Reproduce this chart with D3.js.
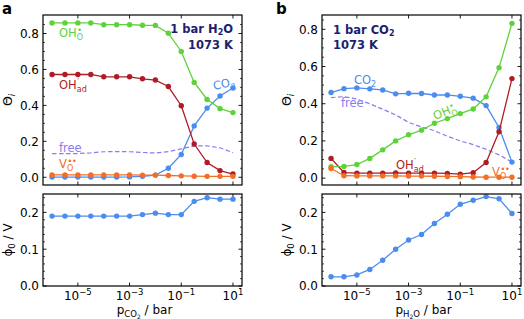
<!DOCTYPE html>
<html><head><meta charset="utf-8">
<script src="https://cdn.jsdelivr.net/npm/d3@7"></script>
<style>
body{margin:0;background:#fff;}
svg{font-family:"DejaVu Sans",sans-serif;}
</style></head>
<body><svg id="c" width="524" height="319"></svg>
<script>
// log10 of pressure (bar)
const logP = [-6,-5.5,-5,-4.5,-4,-3.5,-3,-2.5,-2,-1.5,-1,-0.5,0,0.5,1];
const xTickExp = [-5,-3,-1,1];

// Panel a: varying pCO2 at 1 bar H2O
const aOHO  = [0.859,0.859,0.859,0.859,0.849,0.849,0.849,0.846,0.845,0.802,0.700,0.528,0.433,0.382,0.360];
const aOHad = [0.572,0.572,0.572,0.572,0.559,0.559,0.559,0.548,0.541,0.505,0.398,0.185,0.082,0.037,0.018];
const aCO2  = [0.001,0.001,0.001,0.001,0.001,0.001,0.002,0.005,0.012,0.050,0.127,0.286,0.385,0.452,0.497];
const aVO   = [0.013,0.013,0.013,0.013,0.013,0.013,0.013,0.012,0.012,0.010,0.008,0.006,0.005,0.005,0.005];
const aFree = [0.132,0.132,0.132,0.136,0.142,0.143,0.142,0.138,0.135,0.143,0.158,0.175,0.175,0.164,0.137];
const aPhi  = [0.190,0.190,0.190,0.190,0.190,0.190,0.190,0.194,0.198,0.194,0.194,0.230,0.240,0.236,0.236];

// Panel b: varying pH2O at 1 bar CO2
const bCO2  = [0.460,0.481,0.485,0.480,0.474,0.453,0.456,0.455,0.447,0.447,0.440,0.430,0.390,0.272,0.086];
const bOHO  = [0.061,0.063,0.073,0.106,0.152,0.200,0.233,0.258,0.295,0.320,0.347,0.372,0.437,0.594,0.832];
const bOHad = [0.106,0.030,0.027,0.027,0.027,0.028,0.027,0.027,0.027,0.025,0.021,0.029,0.084,0.249,0.535];
const bVO   = [0.052,0.013,0.012,0.012,0.012,0.012,0.011,0.011,0.010,0.009,0.008,0.006,0.005,0.005,0.005];
const bFree = [0.433,0.438,0.425,0.400,0.370,0.340,0.300,0.275,0.255,0.225,0.200,0.180,0.155,0.125,0.087];
const bPhi  = [0.025,0.025,0.030,0.045,0.070,0.100,0.125,0.140,0.170,0.195,0.222,0.233,0.243,0.237,0.197];

const C = {green:"#5ed23a", red:"#b01c25", blue:"#4a8cf0", orange:"#f26e26", purple:"#8a7cf0", navy:"#1b1f6e"};

const svg = d3.select("#c");

function richText(g, x, y, base, sub, sup, color, size, rot) {
  const grp = g.append("g").attr("transform", `translate(${x},${y}) rotate(${rot||0})`);
  const t = grp.append("text").attr("x",0).attr("y",0).attr("fill",color).attr("font-size",size).text(base);
  const w = t.node().getComputedTextLength();
  if (sub) grp.append("text").attr("x",w).attr("y",size*0.3).attr("fill",color).attr("font-size",size*0.7).text(sub);
  if (sup) grp.append("text").attr("x",w+0.5).attr("y",-size*0.38).attr("fill",color).attr("font-size",size*0.7).text(sup);
  return grp;
}

function panel(cfg) {
  const x = d3.scaleLinear().domain([-6.35, 1.35]).range([cfg.left, cfg.right]);
  const yT = d3.scaleLinear().domain(cfg.yDomTop).range([185, 15]);
  const yB = d3.scaleLinear().domain([0, 0.25]).range([286, 194]);

  function frame(y, top, bot, majors, minors, labelsX) {
    const g = svg.append("g");
    xTickExp.forEach(e => {
      g.append("line").attr("x1",x(e)).attr("x2",x(e)).attr("y1",bot).attr("y2",bot-3.5).attr("stroke","#000").attr("stroke-width",0.9);
      g.append("line").attr("x1",x(e)).attr("x2",x(e)).attr("y1",top).attr("y2",top+3.5).attr("stroke","#000").attr("stroke-width",0.9);
    });
    majors.forEach(v => {
      [[cfg.left, 3.5],[cfg.right,-3.5]].forEach(([xx,d]) =>
        g.append("line").attr("x1",xx).attr("x2",xx+d).attr("y1",y(v)).attr("y2",y(v)).attr("stroke","#000").attr("stroke-width",0.9));
      g.append("text").attr("x",cfg.left-4).attr("y",y(v)+4.3).attr("text-anchor","end").attr("font-size",12).attr("fill","#000").text(v.toFixed(1));
    });
    minors.forEach(v => {
      [[cfg.left, 2],[cfg.right,-2]].forEach(([xx,d]) =>
        g.append("line").attr("x1",xx).attr("x2",xx+d).attr("y1",y(v)).attr("y2",y(v)).attr("stroke","#000").attr("stroke-width",0.7));
    });
    if (labelsX) {
      xTickExp.forEach(e => {
        const t = g.append("text").attr("x",x(e)).attr("y",bot+13.5).attr("text-anchor","middle").attr("font-size",12).attr("fill","#000");
        t.append("tspan").text("10");
        t.append("tspan").attr("font-size",8.5).attr("dy",-5).text(e < 0 ? "\u2212"+Math.abs(e) : String(e));
      });
    }
    return g;
  }

  const topMaj = [0,0.2,0.4,0.6,0.8];
  const topMin = [0.05,0.1,0.15,0.25,0.3,0.35,0.45,0.5,0.55,0.65,0.7,0.75,0.85];
  frame(yT, 15, 185, topMaj, topMin, false);
  const botMin = [0.02,0.04,0.06,0.08,0.12,0.14,0.16,0.18,0.22,0.24];
  frame(yB, 194, 286, [0,0.1,0.2], botMin, true);

  const line = y => d3.line().x((d,i)=>x(logP[i])).y(d=>y(d));
  function series(y, arr, color, dashed) {
    svg.append("path").datum(arr).attr("d", line(y)).attr("fill","none").attr("stroke",color)
      .attr("stroke-width", dashed?1.2:1.3).attr("stroke-dasharray", dashed?"4.5,2.5":null);
    if (!dashed) svg.append("g").selectAll("circle").data(arr).join("circle")
      .attr("cx",(d,i)=>x(logP[i])).attr("cy",d=>y(d)).attr("r",2.7).attr("fill",color);
  }
  series(yT, cfg.free, C.purple, true);
  series(yT, cfg.CO2, C.blue);
  series(yT, cfg.OHad, C.red);
  series(yT, cfg.OHO, C.green);
  series(yT, cfg.VO, C.orange);
  series(yB, cfg.phi, C.blue);

  [[15,185],[194,286]].forEach(([t,b]) =>
    svg.append("rect").attr("x",cfg.left).attr("y",t).attr("width",cfg.right-cfg.left).attr("height",b-t)
      .attr("fill","none").attr("stroke","#000").attr("stroke-width",1.2));

  const ly = svg.append("g").attr("transform",`translate(${cfg.left-31},100) rotate(-90)`);
  const tl = ly.append("text").attr("text-anchor","middle").attr("font-size",12.5).attr("fill","#000");
  tl.append("tspan").text("\u0398");
  tl.append("tspan").attr("font-size",8.5).attr("dy",3).attr("font-style","italic").text("i");
  const ly2 = svg.append("g").attr("transform",`translate(${cfg.left-31},240) rotate(-90)`);
  const tl2 = ly2.append("text").attr("text-anchor","middle").attr("font-size",12).attr("fill","#000");
  tl2.append("tspan").text("\u03d5");
  tl2.append("tspan").attr("font-size",8.5).attr("dy",3).text("0");
  tl2.append("tspan").attr("dy",-3).text(" / V");
  const xl = svg.append("text").attr("x",(cfg.left+cfg.right)/2+2).attr("y",314).attr("text-anchor","middle").attr("font-size",12).attr("fill","#000");
  xl.append("tspan").text("p");
  xl.append("tspan").attr("font-size",8.5).attr("dy",3).text(cfg.xsub);
  if (cfg.xsub2) xl.append("tspan").attr("font-size",6).attr("dy",1.5).text(cfg.xsub2);
  if (cfg.xsub3) xl.append("tspan").attr("font-size",8.5).attr("dy",-1.5).text(cfg.xsub3);
  xl.append("tspan").attr("dy",cfg.xsub3?-3:-4.5).text(" / bar");

  svg.append("text").attr("x",cfg.letterX).attr("y",14).attr("font-size",15).attr("font-weight","bold").attr("fill","#000").text(cfg.letter);
  return {x, yT};
}

panel({left:43,right:242,yDomTop:[-0.043,0.903],
  OHO:aOHO,OHad:aOHad,CO2:aCO2,VO:aVO,free:aFree,phi:aPhi,
  xsub:"CO",xsub2:"2",xsub3:null,letter:"a",letterX:2});
panel({left:322,right:521,yDomTop:[-0.037,0.877],
  OHO:bOHO,OHad:bOHad,CO2:bCO2,VO:bVO,free:bFree,phi:bPhi,
  xsub:"H",xsub2:"2",xsub3:"O",letter:"b",letterX:276});

// annotations panel a
richText(svg, 59, 37, "OH", "O", "\u2022", C.green, 11.5, 0);
richText(svg, 59, 89, "OH", "ad", "\u2032", C.red, 11.5, 0);
svg.append("text").attr("x",59).attr("y",152).attr("font-size",11.5).attr("fill",C.purple).text("free");
richText(svg, 59, 168, "V", "O", "\u2022\u2022", C.orange, 11.5, 0);
richText(svg, 214, 90, "CO", "2", null, C.blue, 11.5, -12);
// titles panel a
svg.append("text").attr("x",233).attr("y",33).attr("text-anchor","end").attr("font-size",11.5).attr("font-weight","bold").attr("fill",C.navy)
  .call(t=>{t.append("tspan").text("1 bar H");t.append("tspan").attr("font-size",8).attr("dy",2).text("2");t.append("tspan").attr("dy",-2).text("O");});
svg.append("text").attr("x",233).attr("y",48.5).attr("text-anchor","end").attr("font-size",11.5).attr("font-weight","bold").attr("fill",C.navy).text("1073 K");

// annotations panel b
richText(svg, 354, 84, "CO", "2", null, C.blue, 11.5, 0);
svg.append("text").attr("x",341).attr("y",107).attr("font-size",11.5).attr("fill",C.purple).text("free");
richText(svg, 435, 120, "OH", "O", "\u2022", C.green, 11.5, -22);
richText(svg, 396, 169, "OH", "ad", "\u2032", C.red, 11.5, 0);
richText(svg, 492, 176, "V", "O", "\u2022\u2022", C.orange, 11.5, 0);
svg.append("text").attr("x",333).attr("y",34).attr("font-size",11.5).attr("font-weight","bold").attr("fill",C.navy)
  .call(t=>{t.append("tspan").text("1 bar CO");t.append("tspan").attr("font-size",8).attr("dy",2).text("2");});
svg.append("text").attr("x",333).attr("y",48.5).attr("font-size",11.5).attr("font-weight","bold").attr("fill",C.navy).text("1073 K");
</script></body></html>
